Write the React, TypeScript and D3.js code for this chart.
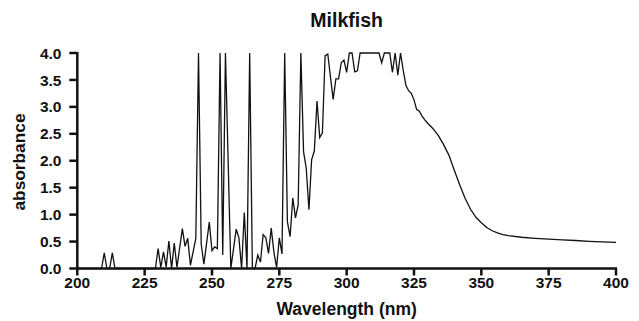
import React from "react";
import * as d3 from "d3";

const title = "Milkfish";
const xLabel = "Wavelength (nm)";
const yLabel = "absorbance";
const xTicks = [200, 225, 250, 275, 300, 325, 350, 375, 400];
const yTicks = [0, 0.5, 1, 1.5, 2, 2.5, 3, 3.5, 4];

const wavelengths = [
  200, 209, 210, 211, 212, 213, 214, 229, 230, 231, 232, 233, 234, 235, 236, 237,
  239, 240, 241, 242, 244, 245, 246, 247, 249, 250, 251, 252, 253, 254, 255, 257,
  259, 260, 261, 262, 263, 264, 265, 266, 267, 268, 269, 270, 271, 272, 273, 274,
  275, 276, 277, 278, 279, 280, 281, 282, 283, 284, 285, 286, 287, 288, 289, 290,
  291, 292, 293, 294, 295, 296, 297, 298, 299, 300, 301, 302, 303, 304, 305, 312,
  313, 314, 316, 317, 318, 319, 320, 321, 322, 323, 324, 325, 326, 327, 328, 329,
  330, 332, 334, 336, 338, 340, 342, 344, 346, 348, 350, 352, 354, 356, 358, 360,
  365, 370, 375, 380, 385, 390, 395, 400,
];
const absorbance = [
  0, 0, 0.29, 0, 0, 0.29, 0, 0, 0.37, 0.02, 0.31, 0.03, 0.51, 0, 0.47, 0.02,
  0.74, 0.41, 0.56, 0.06, 0.56, 4.0, 0.45, 0.08, 0.86, 0.33, 0.4, 0.37, 4.0, 0.25, 4.0, 0,
  0.73, 0.57, 0, 1.04, 0, 4.0, 0, 0, 0.25, 0.12, 0.63, 0.57, 0.28, 0.75, 0.3, 0.02,
  0.57, 0.27, 4.0, 0.87, 0.59, 1.31, 0.94, 1.18, 4.0, 2.17, 1.86, 1.09, 2.02, 2.18, 3.11, 2.43,
  2.52, 3.95, 3.98, 3.55, 3.14, 3.52, 3.52, 3.82, 3.87, 3.64, 4.0, 4.0, 3.65, 3.67, 4.0, 4.0,
  3.82, 4.0, 4.0, 3.64, 4.0, 3.59, 4.0, 3.68, 3.4, 3.3, 3.25, 3.13, 2.95, 2.92, 2.83, 2.76,
  2.7, 2.6, 2.47, 2.3, 2.1, 1.82, 1.55, 1.3, 1.1, 0.95, 0.85, 0.76, 0.7, 0.66, 0.63, 0.61,
  0.58, 0.56, 0.545, 0.53, 0.52, 0.505, 0.495, 0.485,
];

export default function App() {
  const W = 639, H = 321;
  const x = d3.scaleLinear().domain([200, 400]).range([77.3, 616]);
  const y = d3.scaleLinear().domain([0, 4]).range([268.5, 53]);
  const pts: [number, number][] = wavelengths.map((w, i) => [w, absorbance[i]]);
  const line = d3.line<[number, number]>().x(d => x(d[0])).y(d => y(d[1]))(pts) || "";
  const font = "'Liberation Sans', Arial, Helvetica, sans-serif";
  const x0 = x(200), y0 = y(0);
  const cx = (x(200) + x(400)) / 2;
  return (
    <svg width={W} height={H} style={{ position: "absolute", left: 0, top: 0, background: "#fff" }} fontFamily={font} fill="#111">
      <text x={cx} y={27} textAnchor="middle" fontSize={19.5} fontWeight="bold">{title}</text>
      <path d={line} fill="none" stroke="#111" strokeWidth={1.3} strokeLinejoin="miter" />
      {/* y axis */}
      <line x1={x0} x2={x0} y1={y(4) - 1} y2={y0 + 1} stroke="#111" strokeWidth={2.5} />
      {yTicks.map(t => (
        <g key={t}>
          <line x1={x0 - 8} x2={x0} y1={y(t)} y2={y(t)} stroke="#111" strokeWidth={2.5} />
          <text x={61.5} y={y(t)} dy="0.36em" textAnchor="end" fontSize={15.5} fontWeight="bold">{t.toFixed(1)}</text>
        </g>
      ))}
      {/* x axis */}
      <line x1={x0 - 1} x2={x(400) + 1} y1={y0} y2={y0} stroke="#111" strokeWidth={2.5} />
      {xTicks.map(t => (
        <g key={t}>
          <line x1={x(t)} x2={x(t)} y1={y0} y2={y0 + 7} stroke="#111" strokeWidth={2.5} />
          <text x={x(t)} y={y0 + 19} textAnchor="middle" fontSize={15.5} fontWeight="bold">{t}</text>
        </g>
      ))}
      <text x={cx} y={315} textAnchor="middle" fontSize={17.5} fontWeight="bold">{xLabel}</text>
      <text transform={`translate(25,162) rotate(-90)`} textAnchor="middle" fontSize={16} fontWeight="bold" textLength={97} lengthAdjust="spacingAndGlyphs">{yLabel}</text>
    </svg>
  );
}
